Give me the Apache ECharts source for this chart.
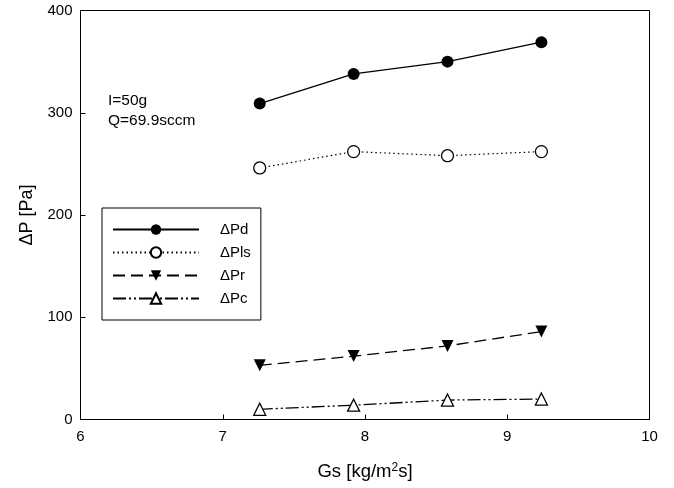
<!DOCTYPE html>
<html>
<head>
<meta charset="utf-8">
<script src="https://cdn.jsdelivr.net/npm/echarts@6/dist/echarts.min.js"></script>
<style>
  html, body { margin: 0; padding: 0; background: #fff; }
  #main { width: 674px; height: 488px; }
</style>
</head>
<body>
<div id="main"></div>
<script>
// Gs values [kg/m2s]
var gs = [7.26, 7.92, 8.58, 9.24];
// pressure drops [Pa]
var dPd = [309, 338, 350, 369];
var dPls = [246, 262, 258, 262];
var dPr = [53, 62, 72, 86];
var dPc = [10, 14, 19, 20];
var seriesNames = ['\u0394Pd', '\u0394Pls', '\u0394Pr', '\u0394Pc'];
var notes = ['I=50g', 'Q=69.9sccm'];

function pairs(ys) {
    return ys.map(function (y, i) { return [gs[i], y]; });
}

var font = '"Liberation Sans", Arial, sans-serif';
var myChart = echarts.init(document.getElementById('main'));
var option = {
    animation: false,
    backgroundColor: '#fff',
    textStyle: { fontFamily: font },
    grid: {
        left: 80.5,
        right: 24.5,
        top: 10.5,
        bottom: 68.5,
        show: true,
        borderColor: '#000',
        borderWidth: 1
    },
    legend: {
        orient: 'vertical',
        left: 102,
        top: 208,
        padding: [14, 10, 14, 10],
        itemGap: 8,
        itemWidth: 86,
        itemHeight: 13,
        borderColor: '#000',
        borderWidth: 1,
        textStyle: { fontSize: 15, color: '#000', padding: [0, 0, 0, 16], fontFamily: font },
        data: seriesNames
    },
    xAxis: {
        type: 'value',
        min: 6,
        max: 10,
        interval: 1,
        name: 'Gs [kg/m{sup|2}s]',
        nameLocation: 'middle',
        nameGap: 42,
        nameTextStyle: {
            fontSize: 18.5, color: '#000', fontFamily: font,
            rich: { sup: { fontSize: 12, verticalAlign: 'top', padding: [0, 0, 9, 0], color: '#000', fontFamily: font } }
        },
        axisLine: { lineStyle: { color: '#000', width: 1 } },
        axisTick: { inside: true, length: 5, lineStyle: { color: '#000' } },
        axisLabel: { fontSize: 15, color: '#000', margin: 10 },
        splitLine: { show: false }
    },
    yAxis: {
        type: 'value',
        min: 0,
        max: 400,
        interval: 100,
        name: '\u0394P [Pa]',
        nameLocation: 'middle',
        nameGap: 44,
        nameTextStyle: { fontSize: 18, color: '#000', fontFamily: font },
        axisLine: { show: true, lineStyle: { color: '#000', width: 1 } },
        axisTick: { show: true, inside: true, length: 5, lineStyle: { color: '#000' } },
        axisLabel: { fontSize: 15, color: '#000', margin: 8 },
        splitLine: { show: false }
    },
    graphic: [
        { type: 'text', left: 108, top: 93, style: { text: notes[0], fontSize: 15.5, fill: '#000', fontFamily: font } },
        { type: 'text', left: 108, top: 113, style: { text: notes[1], fontSize: 15.5, fill: '#000', fontFamily: font } }
    ],
    series: [
        {
            name: seriesNames[0],
            type: 'line',
            data: pairs(dPd),
            symbol: 'circle',
            symbolSize: 12,
            itemStyle: { color: '#000' },
            lineStyle: { color: '#000', width: 1.3, type: 'solid' }
        },
        {
            name: seriesNames[1],
            type: 'line',
            data: pairs(dPls),
            symbol: 'circle',
            symbolSize: 12,
            itemStyle: { color: '#fff', borderColor: '#000', borderWidth: 1.3 },
            lineStyle: { color: '#000', width: 1.2, type: [1.5, 3] }
        },
        {
            name: seriesNames[2],
            type: 'line',
            data: pairs(dPr),
            symbol: 'triangle',
            symbolRotate: 180,
            symbolSize: 12,
            itemStyle: { color: '#000' },
            lineStyle: { color: '#000', width: 1.3, type: [12, 6] }
        },
        {
            name: seriesNames[3],
            type: 'line',
            data: pairs(dPc),
            symbol: 'triangle',
            symbolSize: 12,
            itemStyle: { color: '#fff', borderColor: '#000', borderWidth: 1.3 },
            lineStyle: { color: '#000', width: 1.3, type: [13, 3, 2, 3, 2, 3] }
        }
    ]
};
myChart.setOption(option);
window.addEventListener('resize', function () {
    myChart.resize();
});
</script>
</body>
</html>
